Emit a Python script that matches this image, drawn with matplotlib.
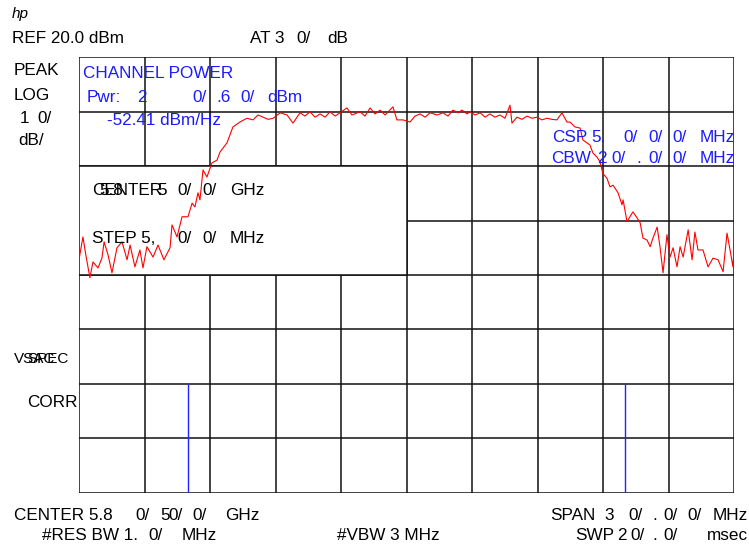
import matplotlib
matplotlib.use("Agg")
import matplotlib.pyplot as plt
from matplotlib.patches import Rectangle
import numpy as np

# ---- data (frequency offset from centre in MHz, level in dBm)
freq_mhz = [-15.00, -14.82, -14.68, -14.50, -14.36, -14.13, -13.95, -13.85, -13.67, -13.49,
            -13.26, -13.03, -12.80, -12.66, -12.44, -12.21, -12.07, -11.89, -11.61, -11.38,
            -11.11, -10.83, -10.74, -10.51, -10.28, -10.01, -9.82, -9.69, -9.55, -9.46,
            -9.32, -9.14, -8.91, -8.68, -8.54, -8.22, -7.95, -7.63, -7.31, -7.03,
            -6.80, -6.57, -6.34, -6.11, -5.79, -5.47, -5.20, -4.88, -4.65, -4.42,
            -4.19, -3.96, -3.73, -3.50, -3.27, -3.05, -2.73, -2.50, -2.13, -1.90,
            -1.67, -1.44, -1.21, -0.98, -0.62, -0.44, -0.16, 0.16, 0.39, 0.62,
            0.85, 1.08, 1.40, 1.67, 1.90, 2.13, 2.36, 2.54, 2.77, 2.91,
            3.14, 3.37, 3.60, 3.82, 4.05, 4.28, 4.51, 4.74, 4.83, 5.06,
            5.29, 5.52, 5.75, 5.98, 6.20, 6.43, 6.66, 6.89, 7.12, 7.35,
            7.49, 7.72, 7.95, 8.08, 8.40, 8.54, 8.72, 8.86, 9.00, 9.18,
            9.32, 9.46, 9.69, 9.87, 9.92, 10.10, 10.37, 10.56, 10.70, 10.83,
            11.02, 11.16, 11.29, 11.48, 11.61, 11.75, 11.93, 12.07, 12.21, 12.39,
            12.53, 12.67, 12.90, 13.08, 13.21, 13.35, 13.58, 13.81, 14.04, 14.27,
            14.50, 14.68, 14.82, 14.95, 15.00]
level_dbm = [-17.2, -13.0, -16.5, -20.5, -17.6, -18.7, -16.9, -13.9, -16.3, -19.6,
             -15.0, -13.9, -17.2, -14.5, -18.5, -15.4, -18.7, -14.8, -16.7, -14.5,
             -17.2, -15.0, -10.8, -13.0, -9.3, -9.3, -6.8, -7.5, -4.9, -6.2,
             -0.7, -2.0, 0.6, 1.1, 2.6, 4.3, 7.2, 8.1, 8.8, 8.5,
             9.4, 9.0, 8.6, 8.8, 9.8, 9.4, 7.9, 9.8, 9.2, 10.0,
             9.0, 9.6, 9.0, 10.0, 9.2, 9.8, 10.7, 9.4, 10.0, 9.2,
             10.7, 9.6, 10.3, 9.4, 10.9, 8.5, 8.5, 8.1, 9.2, 9.6,
             9.0, 9.8, 9.4, 9.8, 9.2, 10.3, 9.8, 10.3, 9.6, 10.0,
             9.4, 9.8, 9.0, 9.6, 9.0, 9.4, 8.8, 11.2, 7.9, 9.0,
             8.6, 9.2, 8.8, 9.0, 8.5, 8.8, 8.6, 8.5, 9.8, 8.1,
             8.1, 7.2, 7.0, 4.8, 3.9, 2.4, 1.7, 0.8, -1.4, -2.2,
             -3.8, -3.5, -4.9, -7.1, -6.2, -10.2, -8.4, -9.5, -10.4, -13.2,
             -13.6, -14.8, -13.2, -11.2, -14.8, -19.6, -12.6, -16.7, -15.0, -18.5,
             -14.8, -16.7, -11.7, -17.2, -12.1, -15.4, -15.4, -18.5, -16.9, -17.2,
             -19.4, -12.3, -15.4, -18.5, -15.4]
channel_edges_mhz = [-10.0, 10.0]
ref_level = 20.0
db_per_div = 10.0
n_vdiv = 8
span_mhz = 30.0
n_hdiv = 10

W, H = 749, 548
fig = plt.figure(figsize=(W / 100, H / 100), dpi=100)
plt.rcParams['font.family'] = ['Liberation Sans', 'DejaVu Sans']

x0, x1, y0, y1 = 79, 734, 57.3, 492.7
ax = fig.add_axes([x0 / W, 1 - y1 / H, (x1 - x0) / W, (y1 - y0) / H])
bottom = ref_level - n_vdiv * db_per_div
ax.set_xlim(-span_mhz / 2, span_mhz / 2)
ax.set_ylim(bottom, ref_level)
ax.axis('off')

for fx in np.linspace(-span_mhz / 2, span_mhz / 2, n_hdiv + 1):
    ax.axvline(fx, color='#111111', lw=1.1, zorder=1)
for ly in np.linspace(bottom, ref_level, n_vdiv + 1):
    ax.axhline(ly, color='#111111', lw=1.1, zorder=1)

# blank annotation box
ax.add_patch(Rectangle((-span_mhz / 2, ref_level - 4 * db_per_div), span_mhz / 2, 2 * db_per_div,
                       facecolor='white', edgecolor='#111111', lw=1.1, zorder=2))

ax.vlines(channel_edges_mhz, bottom, bottom + 2 * db_per_div, color='#2222ff', lw=1.0, zorder=3)
ax.plot(freq_mhz, level_dbm, color='#ff0000', lw=0.8, zorder=4)

FS = 12.3


def t(x, y, s, color='black', size=FS, ha='left', **kw):
    fig.text(x / W, 1 - y / H, s, color=color, fontsize=size, ha=ha, va='baseline', **kw)


# logo
t(12, 18, 'hp', size=11, style='italic')
# header
t(12, 43, 'REF 20.0 dBm')
t(250, 43, 'AT 3')
t(296, 43, '0/')
t(327, 43, 'dB')
# left labels
t(14, 75, 'PEAK')
t(14, 100, 'LOG')
t(20, 123, '1')
t(37, 123, '0/')
t(18, 145, 'dB/')
t(14, 363, 'VSAC', size=11)
t(27, 363, 'SPEC', size=11)
t(27, 407, 'CORR')
# channel power annotations
B = '#1a1aff'
t(83, 78, 'CHANNEL POWER', color=B)
t(87, 102, 'Pwr:', color=B)
t(137, 102, '2', color=B)
t(192, 102, '0/', color=B)
t(216, 102, '.6', color=B)
t(240, 102, '0/', color=B)
t(267, 102, 'dBm', color=B)
t(107, 125, '-52.41 dBm/Hz', color=B)
t(552, 142, 'CSP', color=B)
t(591, 142, '5.', color=B)
t(623, 142, '0/', color=B)
t(648, 142, '0/', color=B)
t(672, 142, '0/', color=B)
t(735, 142, 'MHz', color=B, ha='right')
t(551, 163, 'CBW', color=B)
t(597, 163, '2', color=B)
t(611, 163, '0/', color=B)
t(636, 163, '.', color=B)
t(648, 163, '0/', color=B)
t(672, 163, '0/', color=B)
t(735, 163, 'MHz', color=B, ha='right')
# box text
t(92, 195, 'CENTER')
t(99, 195, '5.8')
t(157, 195, '5')
t(177, 195, '0/')
t(202, 195, '0/')
t(230, 195, 'GHz')
t(92, 243, 'STEP 5,')
t(177, 243, '0/')
t(202, 243, '0/')
t(230, 243, 'MHz')
# footer
t(14, 520, 'CENTER 5.8')
t(135, 520, '0/')
t(160, 520, '5')
t(168, 520, '0/')
t(192, 520, '0/')
t(225, 520, 'GHz')
t(42, 540, '#RES BW 1.')
t(148, 540, '0/')
t(182, 540, 'MHz')
t(337, 540, '#VBW 3 MHz')
t(550, 520, 'SPAN')
t(604, 520, '3')
t(628, 520, '0/')
t(652, 520, '.')
t(663, 520, '0/')
t(687, 520, '0/')
t(748, 520, 'MHz', ha='right')
t(575, 540, 'SWP')
t(617, 540, '2')
t(630, 540, '0/')
t(652, 540, '.')
t(663, 540, '0/')
t(748, 540, 'msec', ha='right')

fig.savefig('out.png', dpi=100, facecolor='white')
